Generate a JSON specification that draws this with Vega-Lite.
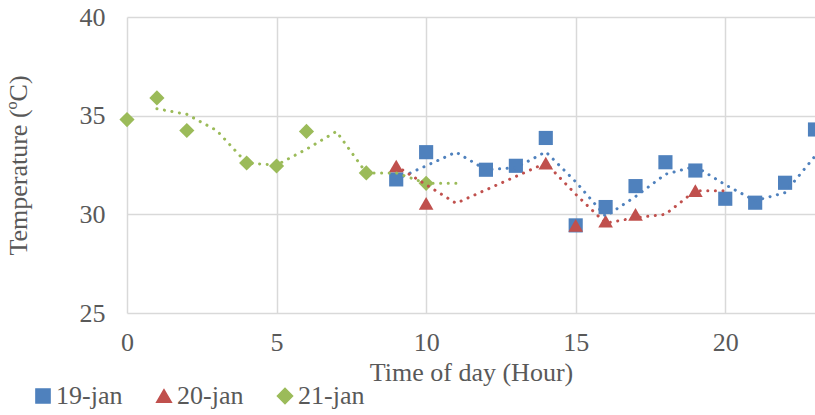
{
  "$schema": "https://vega.github.io/schema/vega-lite/v6.json",
  "width": 688,
  "height": 296,
  "autosize": {"type": "none"},
  "padding": {"left": 127, "top": 17, "right": 0, "bottom": 102},
  "background": "white",
  "config": {
    "view": {"stroke": null},
    "font": "Liberation Serif",
    "axis": {"labelFont": "Liberation Serif", "titleFont": "Liberation Serif", "labelColor": "#595959", "titleColor": "#595959", "titleFontWeight": "normal", "gridColor": "#D9D9D9", "gridWidth": 1.5, "domain": false, "ticks": false, "labelFlush": false},
    "legend": {"labelFont": "Liberation Serif", "labelColor": "#595959"}
  },
  "datasets": {
    "points": [
      {"series": "19-jan", "hour": 9, "temp": 31.77},
      {"series": "19-jan", "hour": 10, "temp": 33.15},
      {"series": "19-jan", "hour": 12, "temp": 32.26},
      {"series": "19-jan", "hour": 13, "temp": 32.46},
      {"series": "19-jan", "hour": 14, "temp": 33.87},
      {"series": "19-jan", "hour": 15, "temp": 29.44},
      {"series": "19-jan", "hour": 16, "temp": 30.37},
      {"series": "19-jan", "hour": 17, "temp": 31.43},
      {"series": "19-jan", "hour": 18, "temp": 32.64},
      {"series": "19-jan", "hour": 19, "temp": 32.22},
      {"series": "19-jan", "hour": 20, "temp": 30.79},
      {"series": "19-jan", "hour": 21, "temp": 30.59},
      {"series": "19-jan", "hour": 22, "temp": 31.6},
      {"series": "19-jan", "hour": 23, "temp": 34.3},
      {"series": "20-jan", "hour": 9, "temp": 32.45},
      {"series": "20-jan", "hour": 10, "temp": 30.56},
      {"series": "20-jan", "hour": 14, "temp": 32.6},
      {"series": "20-jan", "hour": 15, "temp": 29.44},
      {"series": "20-jan", "hour": 16, "temp": 29.66},
      {"series": "20-jan", "hour": 17, "temp": 30.0},
      {"series": "20-jan", "hour": 19, "temp": 31.2},
      {"series": "21-jan", "hour": 0, "temp": 34.8},
      {"series": "21-jan", "hour": 1, "temp": 35.9},
      {"series": "21-jan", "hour": 2, "temp": 34.25},
      {"series": "21-jan", "hour": 4, "temp": 32.6},
      {"series": "21-jan", "hour": 5, "temp": 32.45},
      {"series": "21-jan", "hour": 6, "temp": 34.2},
      {"series": "21-jan", "hour": 8, "temp": 32.1},
      {"series": "21-jan", "hour": 10, "temp": 31.57}
    ],
    "trend": [
      {"series": "19-jan", "hour": 9, "temp": 31.77},
      {"series": "19-jan", "hour": 10, "temp": 32.46},
      {"series": "19-jan", "hour": 11, "temp": 33.15},
      {"series": "19-jan", "hour": 12, "temp": 32.26},
      {"series": "19-jan", "hour": 13, "temp": 32.36},
      {"series": "19-jan", "hour": 14, "temp": 33.17},
      {"series": "19-jan", "hour": 15, "temp": 31.65},
      {"series": "19-jan", "hour": 16, "temp": 29.9},
      {"series": "19-jan", "hour": 17, "temp": 30.9},
      {"series": "19-jan", "hour": 18, "temp": 32.03},
      {"series": "19-jan", "hour": 19, "temp": 32.43},
      {"series": "19-jan", "hour": 20, "temp": 31.5},
      {"series": "19-jan", "hour": 21, "temp": 30.69},
      {"series": "19-jan", "hour": 22, "temp": 31.1},
      {"series": "19-jan", "hour": 23, "temp": 32.95},
      {"series": "20-jan", "hour": 9, "temp": 32.45},
      {"series": "20-jan", "hour": 10, "temp": 31.5},
      {"series": "20-jan", "hour": 11, "temp": 30.56},
      {"series": "20-jan", "hour": 14, "temp": 32.6},
      {"series": "20-jan", "hour": 15, "temp": 31.02},
      {"series": "20-jan", "hour": 16, "temp": 29.55},
      {"series": "20-jan", "hour": 17, "temp": 29.83},
      {"series": "20-jan", "hour": 18, "temp": 30.0},
      {"series": "20-jan", "hour": 19, "temp": 31.2},
      {"series": "20-jan", "hour": 20, "temp": 31.2},
      {"series": "21-jan", "hour": 1, "temp": 35.35},
      {"series": "21-jan", "hour": 2, "temp": 35.07},
      {"series": "21-jan", "hour": 3, "temp": 34.25},
      {"series": "21-jan", "hour": 4, "temp": 32.6},
      {"series": "21-jan", "hour": 5, "temp": 32.5},
      {"series": "21-jan", "hour": 6, "temp": 33.3},
      {"series": "21-jan", "hour": 7, "temp": 34.2},
      {"series": "21-jan", "hour": 8, "temp": 32.1},
      {"series": "21-jan", "hour": 9, "temp": 32.1},
      {"series": "21-jan", "hour": 10, "temp": 31.57},
      {"series": "21-jan", "hour": 11, "temp": 31.57}
    ]
  },
  "layer": [
    {
      "data": {"name": "points"},
      "mark": {"type": "point", "filled": true, "opacity": 1, "size": 200, "strokeWidth": 0},
      "encoding": {
        "x": {"field": "hour", "type": "quantitative", "scale": {"domain": [0, 23], "nice": false, "zero": false},
              "axis": {"values": [0, 5, 10, 15, 20], "title": "Time of day (Hour)", "labelFont": "Liberation Serif", "titleFont": "Liberation Serif", "labelFontSize": 26, "titleFontSize": 26, "labelPadding": 16, "titlePadding": 4, "labelFlush": false}},
        "y": {"field": "temp", "type": "quantitative", "scale": {"domain": [25, 40], "nice": false, "zero": false},
              "axis": {"values": [25, 30, 35, 40], "title": "Temperature (ºC)", "labelFont": "Liberation Serif", "titleFont": "Liberation Serif", "labelFontSize": 26, "titleFontSize": 26, "labelPadding": 22, "titlePadding": 48}},
        "color": {"field": "series", "type": "nominal", "scale": {"domain": ["19-jan", "20-jan", "21-jan"], "range": ["#4F81BD", "#C0504D", "#9BBB59"]},
                  "legend": {"orient": "none", "legendX": -97, "legendY": 366, "direction": "horizontal", "title": null, "labelFont": "Liberation Serif", "labelFontSize": 26, "symbolSize": 170, "columnPadding": 28, "labelOffset": 0, "symbolOpacity": 1}},
        "shape": {"field": "series", "type": "nominal", "scale": {"domain": ["19-jan", "20-jan", "21-jan"], "range": ["square", "triangle-up", "diamond"]}, "legend": null},
        "size": {"field": "series", "type": "nominal", "scale": {"domain": ["19-jan", "20-jan", "21-jan"], "range": [200, 230, 250]}, "legend": null},
        "order": {"field": "series"}
      }
    },
    {
      "data": {"name": "trend"},
      "mark": {"type": "line", "strokeWidth": 3, "strokeCap": "round", "strokeDash": [0.1, 7.5], "interpolate": "linear"},
      "encoding": {
        "x": {"field": "hour", "type": "quantitative"},
        "y": {"field": "temp", "type": "quantitative"},
        "color": {"field": "series", "type": "nominal", "legend": null},
        "detail": {"field": "series"}
      }
    }
  ]
}
